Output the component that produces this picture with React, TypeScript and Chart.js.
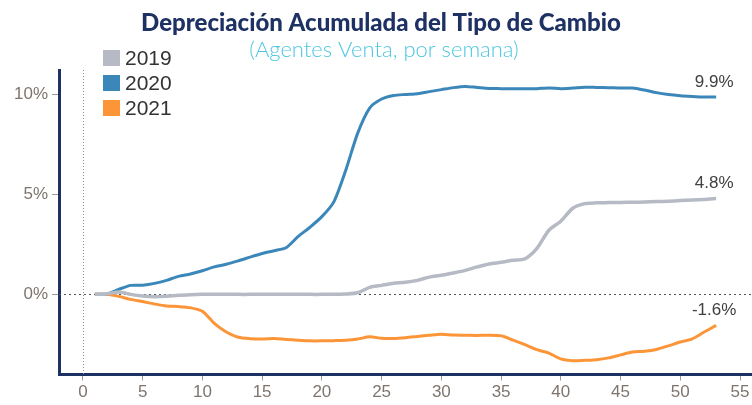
import React, { useEffect, useRef } from "react";
import { Chart, registerables } from "chart.js";
Chart.register(...registerables);

const weeks = [1,2,3,4,5,6,7,8,9,10,11,12,13,14,15,16,17,18,19,20,21,22,23,24,25,26,27,28,29,30,31,32,33,34,35,36,37,38,39,40,41,42,43,44,45,46,47,48,49,50,51,52,53];

const series2019 = [0.0,0.02,0.12,0.0,-0.08,-0.12,-0.1,-0.05,-0.02,0.0,0.01,0.01,0.0,0.0,0.0,0.0,0.0,0.0,0.0,0.0,0.01,0.02,0.08,0.35,0.45,0.55,0.6,0.7,0.86,0.95,1.07,1.2,1.37,1.52,1.6,1.7,1.78,2.3,3.2,3.65,4.3,4.53,4.57,4.58,4.59,4.6,4.61,4.63,4.65,4.68,4.71,4.74,4.78];

const series2020 = [0.0,0.02,0.25,0.45,0.46,0.55,0.7,0.9,1.02,1.18,1.37,1.5,1.67,1.86,2.04,2.18,2.33,2.88,3.35,3.88,4.62,6.2,8.05,9.3,9.75,9.93,9.98,10.02,10.12,10.22,10.32,10.38,10.33,10.28,10.27,10.26,10.26,10.27,10.3,10.27,10.3,10.34,10.33,10.32,10.3,10.3,10.2,10.07,9.98,9.92,9.88,9.85,9.85];

const series2021 = [0.0,0.0,-0.1,-0.25,-0.36,-0.48,-0.58,-0.61,-0.67,-0.84,-1.45,-1.88,-2.14,-2.21,-2.23,-2.2,-2.25,-2.29,-2.32,-2.32,-2.31,-2.29,-2.23,-2.12,-2.19,-2.2,-2.16,-2.1,-2.04,-1.99,-2.03,-2.04,-2.05,-2.04,-2.07,-2.28,-2.51,-2.76,-2.93,-3.22,-3.31,-3.29,-3.26,-3.17,-3.02,-2.88,-2.84,-2.75,-2.57,-2.38,-2.22,-1.88,-1.55];

const seriesNames = ["2019", "2020", "2021"];
const endLabels = ["4.8%", "9.9%", "-1.6%"];
const yTickValues = [0, 5, 10];
const xTickValues = [0, 5, 10, 15, 20, 25, 30, 35, 40, 45, 50, 55];

const titleText = "Depreciación Acumulada del Tipo de Cambio";
const subtitleText = "(Agentes Venta, por semana)";

const COLORS = ["#b5bac4", "#3b87b9", "#fb9538"];
const NAVY = "#1d3163";
const TICK_COLOR = "#7d756e";

const decorPlugin = {
  id: "decor",
  beforeDatasetsDraw(chart: any) {
    const { ctx, chartArea, scales } = chart;
    const x0 = scales.x.getPixelForValue(0);
    const y0 = scales.y.getPixelForValue(0);
    ctx.save();
    ctx.lineWidth = 1;
    ctx.strokeStyle = "#8a8a8a";
    ctx.setLineDash([1, 2]);
    ctx.beginPath();
    ctx.moveTo(Math.round(x0) + 0.5, chartArea.top);
    ctx.lineTo(Math.round(x0) + 0.5, chartArea.bottom);
    ctx.stroke();
    ctx.strokeStyle = "#555";
    ctx.setLineDash([2, 3]);
    ctx.beginPath();
    ctx.moveTo(chartArea.left, Math.round(y0) + 0.5);
    ctx.lineTo(chartArea.right, Math.round(y0) + 0.5);
    ctx.stroke();
    ctx.restore();
  },
  afterDatasetsDraw(chart: any) {
    const { ctx } = chart;
    ctx.save();
    ctx.font = "17px 'Liberation Sans', Arial, sans-serif";
    ctx.fillStyle = "#404040";
    ctx.textAlign = "center";
    ctx.textBaseline = "middle";
    chart.data.datasets.forEach((ds: any, i: number) => {
      const meta = chart.getDatasetMeta(i);
      const pt = meta.data[meta.data.length - 1];
      if (!pt) return;
      ctx.fillText(endLabels[i], pt.x - 2, pt.y - 15);
    });
    ctx.restore();
  },
  afterDraw(chart: any) {
    const { ctx } = chart;
    ctx.save();
    ctx.textAlign = "center";
    ctx.textBaseline = "alphabetic";
    ctx.fillStyle = NAVY;
    ctx.font = "900 24px Lato, 'Open Sans', sans-serif";
    ctx.fillText(titleText, 381, 31);
    ctx.fillStyle = "#4cc7df";
    ctx.font = "300 22px Lato, 'Open Sans', sans-serif";
    ctx.fillText(subtitleText, 384, 57);
    // legend
    ctx.textAlign = "left";
    ctx.textBaseline = "middle";
    ctx.font = "21px 'Liberation Sans', Arial, sans-serif";
    seriesNames.forEach((name, i) => {
      const y = 50 + i * 25;
      ctx.fillStyle = COLORS[i];
      ctx.fillRect(103, y, 17, 16);
      ctx.fillStyle = "#333333";
      ctx.fillText(name, 125, y + 9);
    });
    ctx.restore();
  },
};

export default function App() {
  const ref = useRef<HTMLCanvasElement | null>(null);
  useEffect(() => {
    if (!ref.current) return;
    const datasets = [series2019, series2020, series2021].map((s, i) => ({
      label: seriesNames[i],
      data: weeks.map((w, j) => ({ x: w, y: s[j] })),
      borderColor: COLORS[i],
      backgroundColor: COLORS[i],
      borderWidth: i === 0 ? 3.5 : 3,
      pointRadius: 0,
      tension: 0.25,
      fill: false,
    }));
    const chart = new Chart(ref.current, {
      type: "line",
      data: { datasets },
      options: {
        animation: false,
        responsive: true,
        maintainAspectRatio: false,
        layout: { padding: { top: 70, left: 0, right: 0, bottom: 0 } },
        plugins: { legend: { display: false }, tooltip: { enabled: false }, title: { display: false } },
        scales: {
          x: {
            type: "linear",
            min: -2,
            max: 56,
            afterFit: (s: any) => { s.height = 30.5; },
            afterBuildTicks: (s: any) => { s.ticks = xTickValues.map((v) => ({ value: v })); },
            ticks: {
              color: TICK_COLOR,
              font: { family: "'Liberation Sans', Arial, sans-serif", size: 17 },
              padding: 2,
              maxRotation: 0,
              autoSkip: false,
            },
            grid: { drawOnChartArea: false, drawTicks: true, tickLength: 6, color: "#9a9a9a", lineWidth: 1 },
            border: { display: true, color: NAVY, width: 3 },
          },
          y: {
            type: "linear",
            min: -4,
            max: 11.2,
            afterFit: (s: any) => { s.width = 59; },
            afterBuildTicks: (s: any) => { s.ticks = yTickValues.map((v) => ({ value: v })); },
            ticks: {
              color: TICK_COLOR,
              font: { family: "'Liberation Sans', Arial, sans-serif", size: 17 },
              padding: 4,
              callback: (v: any) => v + "%",
            },
            grid: { drawOnChartArea: false, drawTicks: true, tickLength: 7, color: "#9a9a9a", lineWidth: 1 },
            border: { display: true, color: NAVY, width: 3 },
          },
        },
      },
      plugins: [decorPlugin],
    });
    return () => chart.destroy();
  }, []);
  return (
    <div style={{ position: "fixed", left: 0, top: 0, width: 752, height: 405, background: "#fff" }}>
      <canvas ref={ref} />
    </div>
  );
}
